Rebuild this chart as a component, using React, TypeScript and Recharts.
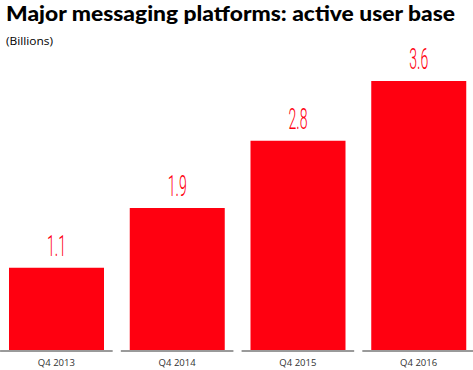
import React from 'react';
import { BarChart, Bar, XAxis, YAxis, LabelList } from 'recharts';

const quarters = ['Q4 2013', 'Q4 2014', 'Q4 2015', 'Q4 2016'];
const users = [1.1, 1.9, 2.8, 3.6];

const data = quarters.map((q, i) => ({ quarter: q, users: users[i] }));

const RED = '#ff0010';

const QuarterTick = (props: any) => {
  const { x, y, payload } = props;
  return (
    <g>
      <line x1={x - 56.3} x2={x + 56.3} y1={y + 1} y2={y + 1} stroke="#9a9a9a" strokeWidth={2} />
      <text
        x={x}
        y={y + 16}
        textAnchor="middle"
        fill="#333"
        fontSize={9.5}
        fontFamily="'Open Sans', sans-serif"
      >
        {payload.value}
      </text>
    </g>
  );
};

const ValueLabel = (props: any) => {
  const { x, y, width, value } = props;
  return (
    <text
      x={x + width / 2}
      y={y - 12}
      textAnchor="middle"
      fill={RED}
      fontSize={29}
      fontWeight={300}
      fontFamily="Roboto, 'Liberation Sans Narrow', sans-serif"
      textLength={19}
      lengthAdjust="spacingAndGlyphs"
    >
      {value}
    </text>
  );
};

const App: React.FC = () => {
  return (
    <div
      style={{
        position: 'absolute',
        left: 0,
        top: 0,
        width: 473,
        height: 370,
        overflow: 'hidden',
        background: '#fff',
      }}
    >
      <svg width={473} height={60} style={{ position: 'absolute', left: 0, top: 0 }}>
        <text
          x={6}
          y={21}
          fontSize={20}
          fontWeight={900}
          fill="#000"
          fontFamily="Lato, 'Open Sans', sans-serif"
          textLength={449}
          lengthAdjust="spacingAndGlyphs"
        >
          Major messaging platforms: active user base
        </text>
        <text
          x={6}
          y={45}
          fontSize={10}
          fill="#000"
          fontFamily="'Open Sans', sans-serif"
          textLength={47}
          lengthAdjust="spacingAndGlyphs"
        >
          (Billions)
        </text>
      </svg>
      <div style={{ position: 'absolute', left: -4, top: 0 }}>
        <BarChart
          width={483}
          height={370}
          data={data}
          margin={{ top: 51, right: 0, left: 0, bottom: 0 }}
        >
          <XAxis
            dataKey="quarter"
            height={20}
            axisLine={false}
            tickLine={false}
            tickSize={0}
            tickMargin={0}
            interval={0}
            tick={<QuarterTick />}
          />
          <YAxis hide domain={[0, 4]} />
          <Bar dataKey="users" fill={RED} barSize={95} isAnimationActive={false}>
            <LabelList dataKey="users" content={<ValueLabel />} />
          </Bar>
        </BarChart>
      </div>
    </div>
  );
};

export default App;
